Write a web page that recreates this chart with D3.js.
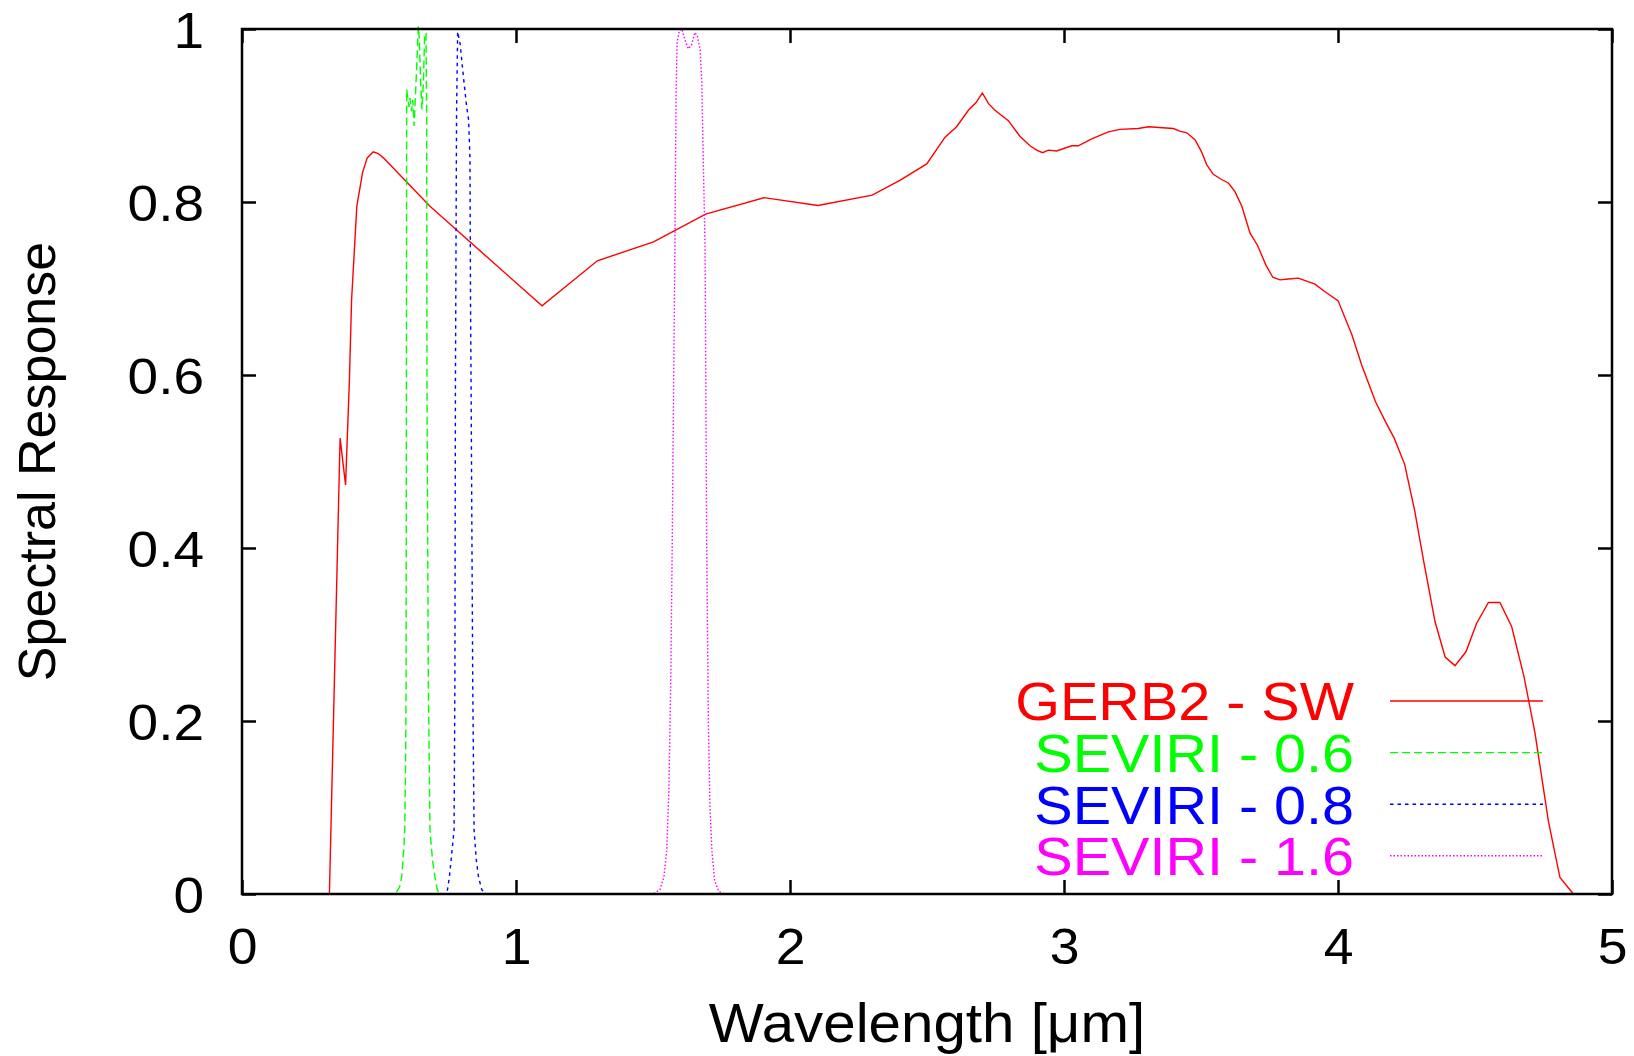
<!DOCTYPE html>
<html>
<head>
<meta charset="utf-8">
<script src="https://cdn.jsdelivr.net/npm/d3@7/dist/d3.min.js"></script>
<style>
  body { margin: 0; background: #fff; }
  text { font-family: "Liberation Sans", Arial, sans-serif; }
</style>
</head>
<body>
<div id="main"></div>
<script>
// spectral response curves
var gerbX = [0.10, 0.319, 0.358, 0.378, 0.392, 0.400, 0.419, 0.440, 0.457, 0.479, 0.497, 0.516, 0.686, 1.095, 1.297, 1.502, 1.692, 1.905, 2.102, 2.300, 2.401, 2.499, 2.566, 2.608, 2.651, 2.679, 2.702, 2.724, 2.748, 2.797, 2.839, 2.876, 2.900, 2.922, 2.943, 2.973, 3.028, 3.052, 3.101, 3.162, 3.204, 3.271, 3.308, 3.399, 3.423, 3.448, 3.478, 3.502, 3.521, 3.545, 3.575, 3.600, 3.624, 3.649, 3.679, 3.706, 3.737, 3.762, 3.788, 3.819, 3.855, 3.916, 3.954, 4.000, 4.050, 4.087, 4.137, 4.175, 4.205, 4.243, 4.280, 4.312, 4.354, 4.391, 4.427, 4.467, 4.506, 4.549, 4.591, 4.634, 4.679, 4.719, 4.768, 4.810, 4.859, 4.990];
var gerbY = [0, 0, 0.527, 0.473, 0.594, 0.687, 0.795, 0.834, 0.851, 0.858, 0.856, 0.851, 0.795, 0.680, 0.732, 0.754, 0.786, 0.805, 0.796, 0.808, 0.825, 0.844, 0.875, 0.887, 0.906, 0.915, 0.926, 0.914, 0.906, 0.894, 0.876, 0.865, 0.860, 0.857, 0.860, 0.859, 0.865, 0.865, 0.873, 0.881, 0.884, 0.885, 0.887, 0.885, 0.882, 0.880, 0.872, 0.858, 0.843, 0.832, 0.826, 0.822, 0.812, 0.795, 0.764, 0.750, 0.727, 0.713, 0.710, 0.711, 0.712, 0.705, 0.696, 0.686, 0.647, 0.611, 0.569, 0.545, 0.527, 0.497, 0.443, 0.386, 0.315, 0.274, 0.264, 0.280, 0.313, 0.337, 0.337, 0.309, 0.251, 0.186, 0.084, 0.019, 0, 0];

var sev06X = [0.48, 0.56, 0.575, 0.583, 0.590, 0.594, 0.597, 0.599, 0.601, 0.6095, 0.613, 0.619, 0.623, 0.628, 0.6326, 0.6375, 0.6435, 0.647, 0.652, 0.657, 0.662, 0.6667, 0.6715, 0.674, 0.675, 0.680, 0.686, 0.695, 0.704, 0.712, 0.72, 0.78];
var sev06Y = [0, 0, 0.008, 0.02, 0.05, 0.074, 0.15, 0.247, 0.93, 0.91, 0.92, 0.905, 0.918, 0.888, 0.92, 0.956, 1.003, 0.99, 0.937, 0.907, 0.937, 0.995, 0.995, 0.9, 0.594, 0.247, 0.074, 0.04, 0.02, 0.006, 0, 0];

var sev08X = [0.70, 0.74, 0.750, 0.757, 0.765, 0.774, 0.777, 0.779, 0.783, 0.787, 0.796, 0.808, 0.820, 0.827, 0.832, 0.834, 0.836, 0.842, 0.847, 0.855, 0.863, 0.875, 0.89, 0.95];
var sev08Y = [0, 0, 0.005, 0.02, 0.045, 0.074, 0.247, 0.594, 0.9, 0.997, 0.983, 0.945, 0.910, 0.895, 0.85, 0.687, 0.594, 0.247, 0.074, 0.04, 0.02, 0.005, 0, 0];

var sev16X = [1.35, 1.50, 1.525, 1.540, 1.550, 1.558, 1.565, 1.570, 1.575, 1.580, 1.584, 1.588, 1.596, 1.605, 1.617, 1.629, 1.641, 1.653, 1.662, 1.672, 1.678, 1.684, 1.690, 1.696, 1.702, 1.708, 1.715, 1.725, 1.740, 1.760, 1.90];
var sev16Y = [0, 0, 0.005, 0.02, 0.05, 0.12, 0.25, 0.40, 0.58, 0.75, 0.92, 0.985, 0.998, 1.0, 0.987, 0.977, 0.982, 0.996, 0.992, 0.976, 0.94, 0.84, 0.75, 0.40, 0.20, 0.10, 0.05, 0.015, 0.003, 0, 0];

var seriesNames = ["GERB2 - SW", "SEVIRI - 0.6", "SEVIRI - 0.8", "SEVIRI - 1.6"];
var seriesColors = ["#ff0000", "#00ff00", "#0000ff", "#ff00ff"];
var seriesDash = [null, "8,4", "3.5,4", "1.5,2"];
var xTicks = [0, 1, 2, 3, 4, 5];
var yTicks = [0, 0.2, 0.4, 0.6, 0.8, 1];

var outerWidth = 1634;
var outerHeight = 1056;

var marginLeft = 242;
var marginTop = 29;
var marginRight = 22;
var marginBottom = 162;

var innerWidth = outerWidth - marginLeft - marginRight;
var innerHeight = outerHeight - marginTop - marginBottom;

var xScale = d3.scaleLinear().domain([0, 5]).range([0, innerWidth]);
var yScale = d3.scaleLinear().domain([0, 1]).range([innerHeight, 0]);

var tickLen = 14;

// the original font is a bit wider than Liberation Sans
function widen(sel, k){
    sel.each(function(){
        var w = this.getComputedTextLength();
        d3.select(this)
            .attr("textLength", w * k)
            .attr("lengthAdjust", "spacingAndGlyphs");
    });
}

var svg = d3.select("#main")
    .append("svg")
    .attr("width", outerWidth)
    .attr("height", outerHeight);

var g = svg.append("g")
    .attr("transform", "translate(" + marginLeft + "," + marginTop + ")");

// inward ticks on all four sides
var xAxisG = g.append("g")
    .attr("transform", "translate(0," + innerHeight + ")")
    .call(d3.axisBottom(xScale).tickValues(xTicks).tickSizeInner(-tickLen).tickSizeOuter(0).tickPadding(34).tickFormat(d3.format("d")));
g.append("g")
    .call(d3.axisTop(xScale).tickValues(xTicks).tickSizeInner(-tickLen).tickSizeOuter(0).tickFormat(""));
var yAxisG = g.append("g")
    .call(d3.axisLeft(yScale).tickValues(yTicks).tickSizeInner(-tickLen).tickSizeOuter(0).tickPadding(38).tickFormat(d => d === 0 || d === 1 ? d : d3.format(".1f")(d)));
g.append("g")
    .attr("transform", "translate(" + innerWidth + ",0)")
    .call(d3.axisRight(yScale).tickValues(yTicks).tickSizeInner(-tickLen).tickSizeOuter(0).tickFormat(""));

g.selectAll(".domain").remove();
g.selectAll(".tick line").attr("stroke", "#000").attr("stroke-width", 2.5);
g.selectAll(".tick text").attr("fill", "#000").style("font-size", "50px");
xAxisG.selectAll("text").attr("dy", "0.71em");
yAxisG.selectAll("text").attr("dy", "0.37em");
widen(xAxisG.selectAll("text"), 1.07);
widen(yAxisG.selectAll("text"), 1.1);

var line = d3.line()
    .x(d => xScale(d[0]))
    .y(d => yScale(d[1]));

var curves = [
    d3.zip(gerbX, gerbY),
    d3.zip(sev06X, sev06Y),
    d3.zip(sev08X, sev08Y),
    d3.zip(sev16X, sev16Y)
];

curves.forEach(function(c, i){
    g.append("path")
        .datum(c)
        .attr("d", line)
        .attr("fill", "none")
        .attr("stroke", seriesColors[i])
        .attr("stroke-width", 1.4)
        .attr("stroke-dasharray", seriesDash[i]);
});

g.append("rect")
    .attr("width", innerWidth)
    .attr("height", innerHeight)
    .attr("fill", "none")
    .attr("stroke", "#000")
    .attr("stroke-width", 2.5);

// legend
var legendTop = 701 - marginTop;
var legendStep = 51.6;
var legend = g.selectAll(".legend")
    .data(seriesNames)
    .enter()
    .append("g")
    .attr("class", "legend")
    .attr("transform", (d, i) => "translate(0," + (legendTop + i * legendStep) + ")");

var legendText = legend.append("text")
    .attr("x", 1354 - marginLeft)
    .attr("dy", "0.36em")
    .style("text-anchor", "end")
    .style("font-size", "54px")
    .attr("fill", (d, i) => seriesColors[i])
    .text(d => d);
widen(legendText, 1.065);

legend.append("line")
    .attr("x1", 1390 - marginLeft)
    .attr("x2", 1543 - marginLeft)
    .attr("stroke", (d, i) => seriesColors[i])
    .attr("stroke-width", 1.4)
    .attr("stroke-dasharray", (d, i) => seriesDash[i]);

// axis labels
var xLabel = svg.append("text")
    .attr("x", marginLeft + innerWidth / 2)
    .attr("y", 1042)
    .style("text-anchor", "middle")
    .style("font-size", "55px")
    .text("Wavelength [\u03bcm]");
widen(xLabel, 1.06);

svg.append("text")
    .attr("transform", "translate(55," + (marginTop + innerHeight / 2) + ") rotate(-90)")
    .style("text-anchor", "middle")
    .style("font-size", "52px")
    .text("Spectral Response");
</script>
</body>
</html>
